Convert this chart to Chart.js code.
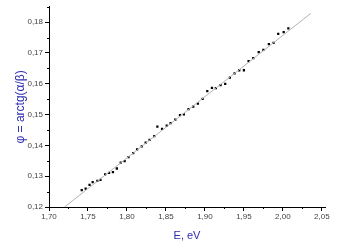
<!DOCTYPE html>
<html>
<head>
<meta charset="utf-8">
<script src="https://cdn.jsdelivr.net/npm/chart.js@4.4.0/dist/chart.umd.min.js"></script>
<style>
  html, body { margin: 0; padding: 0; background: #fff; }
  #wrap { width: 360px; height: 243px; }
</style>
</head>
<body>
<div id="wrap"><canvas id="chart"></canvas></div>
<script>
// photon energy, eV
const energy = [1.742, 1.747, 1.752, 1.756, 1.762, 1.766, 1.772, 1.777, 1.782, 1.787,
  1.792, 1.797, 1.802, 1.808, 1.813, 1.819, 1.824, 1.829, 1.835, 1.839,
  1.845, 1.851, 1.856, 1.862, 1.868, 1.873, 1.879, 1.885, 1.891, 1.897,
  1.903, 1.909, 1.914, 1.920, 1.926, 1.932, 1.938, 1.944, 1.950, 1.956,
  1.962, 1.969, 1.975, 1.982, 1.988, 1.994, 2.001, 2.007];
// phi = arctg(alpha/beta)
const phi = [0.1255, 0.1260, 0.1272, 0.1281, 0.1285, 0.1288, 0.1306, 0.1311, 0.1313, 0.1325,
  0.1344, 0.1349, 0.1362, 0.1375, 0.1387, 0.1397, 0.1409, 0.1418, 0.1430, 0.1461,
  0.1454, 0.1464, 0.1472, 0.1484, 0.1498, 0.1501, 0.1518, 0.1526, 0.1536, 0.1551,
  0.1576, 0.1587, 0.1586, 0.1596, 0.1600, 0.1620, 0.1634, 0.1644, 0.1644, 0.1674,
  0.1683, 0.1703, 0.1710, 0.1729, 0.1733, 0.1762, 0.1768, 0.1780];
// linear fit ends
const fitE = [1.72, 2.036];
const fitPhi = [0.12, 0.1829];

const xTicks = [1.70, 1.75, 1.80, 1.85, 1.90, 1.95, 2.00, 2.05];
const yTicks = [0.12, 0.13, 0.14, 0.15, 0.16, 0.17, 0.18];

const titleColor = "#2a2ab0";
const fmt = (v) => v.toFixed(2).replace(".", ",");

// minor ticks halfway between the major ones
const minorTicks = {
  id: "minorTicks",
  afterDraw(chart) {
    const ctx = chart.ctx;
    const xs = chart.scales.x, ys = chart.scales.y;
    ctx.save();
    ctx.strokeStyle = "#000";
    ctx.lineWidth = 1;
    ctx.beginPath();
    for (let i = 0; i < xTicks.length; i++) {
      const v = xTicks[i] + 0.025;
      if (v > xs.max) break;
      const px = Math.round(xs.getPixelForValue(v)) + 0.5;
      ctx.moveTo(px, xs.top);
      ctx.lineTo(px, xs.top + 2);
    }
    for (let i = 0; i < yTicks.length; i++) {
      const v = yTicks[i] + 0.005;
      if (v > ys.max) break;
      const py = Math.round(ys.getPixelForValue(v)) + 0.5;
      ctx.moveTo(ys.right, py);
      ctx.lineTo(ys.right - 2, py);
    }
    ctx.stroke();
    ctx.restore();
  }
};

new Chart(document.getElementById("chart"), {
  type: "scatter",
  data: {
    datasets: [
      {
        label: "fit",
        data: fitE.map((e, i) => ({ x: e, y: fitPhi[i] })),
        showLine: true,
        borderColor: "#b8b0b0",
        borderWidth: 1,
        pointRadius: 0,
        fill: false
      },
      {
        label: "phi",
        data: energy.map((e, i) => ({ x: e, y: phi[i] })),
        pointStyle: "rect",
        pointRadius: 1.6,
        backgroundColor: "#000",
        borderColor: "#000",
        borderWidth: 0
      }
    ]
  },
  options: {
    responsive: true,
    maintainAspectRatio: false,
    animation: false,
    layout: { padding: { left: 0, right: 35, top: 5, bottom: 0 } },
    plugins: { legend: { display: false }, tooltip: { enabled: false } },
    scales: {
      x: {
        type: "linear",
        min: 1.70,
        max: 2.054,
        afterBuildTicks: (s) => { s.ticks = xTicks.map((v) => ({ value: v })); },
        afterFit: (s) => { s.height = 36; },
        border: { display: true, color: "#000", width: 1 },
        grid: { drawOnChartArea: false, drawTicks: true, tickLength: 4, color: "#000" },
        ticks: {
          color: "#444",
          font: { family: "Arial, 'Liberation Sans'", size: 8 },
          padding: 1,
          maxRotation: 0,
          callback: (v) => fmt(v)
        },
        title: {
          display: true,
          text: "E, eV",
          color: titleColor,
          font: { family: "Arial, 'Liberation Sans'", size: 11 },
          padding: { top: 4, bottom: 0 }
        }
      },
      y: {
        type: "linear",
        min: 0.12,
        max: 0.185,
        afterBuildTicks: (s) => { s.ticks = yTicks.map((v) => ({ value: v })); },
        afterFit: (s) => { s.width = 49; },
        border: { display: true, color: "#000", width: 1 },
        grid: { drawOnChartArea: false, drawTicks: true, tickLength: 4, color: "#000" },
        ticks: {
          color: "#444",
          font: { family: "Arial, 'Liberation Sans'", size: 8 },
          padding: 2,
          callback: (v) => fmt(v)
        },
        title: {
          display: true,
          text: "φ = arctg(α/β)",
          color: titleColor,
          font: { family: "Arial, 'Liberation Sans'", size: 12 },
          padding: { top: 13, bottom: 2 }
        }
      }
    }
  },
  plugins: [minorTicks]
});
</script>
</body>
</html>
